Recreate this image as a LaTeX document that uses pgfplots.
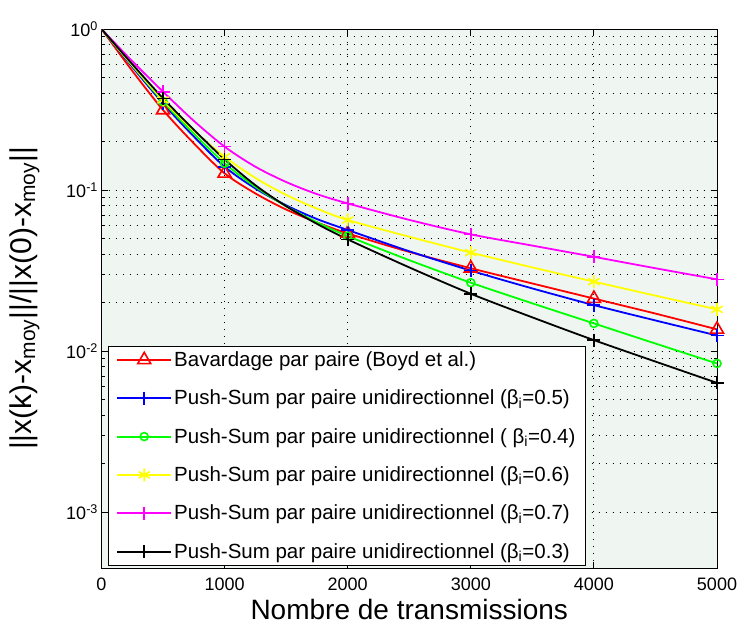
\documentclass[border=0pt]{standalone}
\usepackage{fontspec}
\setmainfont{Liberation Sans}
\usepackage{pgfplots}
\usepackage{pgfplotstable}
\pgfplotsset{compat=1.18}
\usetikzlibrary{calc}
\definecolor{bgc}{RGB}{239,246,241}
\definecolor{mred}{RGB}{255,0,0}
\definecolor{mblue}{RGB}{0,0,255}
\definecolor{mgreen}{RGB}{0,255,0}
\definecolor{myellow}{RGB}{255,255,0}
\definecolor{mmag}{RGB}{255,0,255}

\pgfplotstableread{
x red blue green yellow magenta black
0 1 1 1 1 1 1
250 0.550 0.582 0.592 0.596 0.631 0.605
500 0.314 0.345 0.354 0.362 0.408 0.371
750 0.195 0.215 0.224 0.234 0.269 0.237
1000 0.127 0.1396 0.1466 0.161 0.186 0.155
1250 0.0953 0.1023 0.1047 0.1189 0.1396 0.1072
1500 0.0757 0.0804 0.0794 0.0933 0.1122 0.0794
1750 0.0630 0.0661 0.0631 0.0767 0.0944 0.0617
2000 0.0538 0.0565 0.0518 0.0652 0.0826 0.0494
2500 0.0413 0.0417 0.0367 0.0513 0.0653 0.0331
3000 0.0327 0.0316 0.0266 0.0409 0.0531 0.0227
3500 0.0263 0.0245 0.0198 0.0331 0.0452 0.0162
4000 0.0212 0.0193 0.01486 0.0270 0.0385 0.0117
4500 0.0171 0.0155 0.01114 0.0221 0.0327 0.00861
5000 0.01365 0.0125 0.00838 0.01816 0.0279 0.00635
}\data

\begin{document}
\begin{tikzpicture}
\begin{axis}[
  scale only axis,
  width=615.5pt, height=539pt,
  xmin=0, xmax=5000,
  ymode=log, ymin=4.5e-4, ymax=1,
  xtick={0,1000,2000,3000,4000,5000},
  xticklabels={0,1000,2000,3000,4000,5000},
  ytick={0.001,0.01,0.1,1},
  yticklabels={10\textsuperscript{-3},10\textsuperscript{-2},10\textsuperscript{-1},10\textsuperscript{0}},
  ticklabel style={font=\fontsize{18}{20}\selectfont},
  xticklabel style={yshift=-6pt},
  xlabel={Nombre de transmissions},
  ylabel={||x(k)-x\textsubscript{moy}||/||x(0)-x\textsubscript{moy}||},
  xlabel style={font=\fontsize{28}{32}\selectfont, yshift=-2pt},
  ylabel style={font=\fontsize{30}{34}\selectfont},
  ylabel shift=20pt,
  axis background/.style={fill=bgc},
  xmajorgrids, ymajorgrids, yminorgrids,
  major grid style={black, line width=0.9pt, dash pattern=on 1pt off 6pt},
  minor grid style={black, line width=0.9pt, dash pattern=on 1pt off 6pt},
  axis line style={black, line width=0.9pt},
  tick style={black, line width=0.9pt},
  major tick length=6pt, minor tick length=3.5pt,
  tick align=inside,
  legend cell align=left,
  legend style={at={(rel axis cs:0.0106,0.0056)}, anchor=south west,
    font=\fontsize{20.5}{24}\selectfont, draw=black,
    fill=white, row sep=18pt, inner xsep=8pt, inner ysep=3pt,
    /tikz/every even column/.append style={column sep=4pt}},
  legend image code/.code={%
    \draw[#1,mark=none,line width=2pt] (0pt,0pt) -- (54pt,0pt);
    \draw[#1,mark indices={1}] plot coordinates {(27pt,0pt)};},
  mark indices={3,5,9,11,13,15},
]
\addplot[mred, line width=1.8pt, smooth, mark=triangle, mark size=7.5pt, mark options={solid, line width=1.6pt}] table[x=x,y=red]{\data};
\addlegendentry{Bavardage par paire (Boyd et al.)}
\addplot[mblue, line width=1.8pt, smooth, mark=+, mark size=6.5pt, mark options={solid, line width=1.6pt}] table[x=x,y=blue]{\data};
\addlegendentry{Push-Sum par paire unidirectionnel (β\textsubscript{i}=0.5)}
\addplot[mgreen, line width=1.8pt, smooth, mark=o, mark size=4pt, mark options={solid, line width=1.6pt}] table[x=x,y=green]{\data};
\addlegendentry{Push-Sum par paire unidirectionnel ( β\textsubscript{i}=0.4)}
\addplot[myellow, line width=1.8pt, smooth, mark=asterisk, mark size=6.5pt, mark options={solid, line width=1.6pt}] table[x=x,y=yellow]{\data};
\addlegendentry{Push-Sum par paire unidirectionnel (β\textsubscript{i}=0.6)}
\addplot[mmag, line width=1.8pt, smooth, mark=+, mark size=6.5pt, mark options={solid, line width=1.6pt}] table[x=x,y=magenta]{\data};
\addlegendentry{Push-Sum par paire unidirectionnel (β\textsubscript{i}=0.7)}
\addplot[black, line width=1.8pt, smooth, mark=+, mark size=6.5pt, mark options={solid, line width=1.6pt}] table[x=x,y=black]{\data};
\addlegendentry{Push-Sum par paire unidirectionnel (β\textsubscript{i}=0.3)}
\end{axis}
\pgfresetboundingbox
\path ($(current axis.south west)+(-101.5pt,-62pt)$) rectangle ($(current axis.north east)+(23pt,29pt)$);
\end{tikzpicture}
\end{document}
